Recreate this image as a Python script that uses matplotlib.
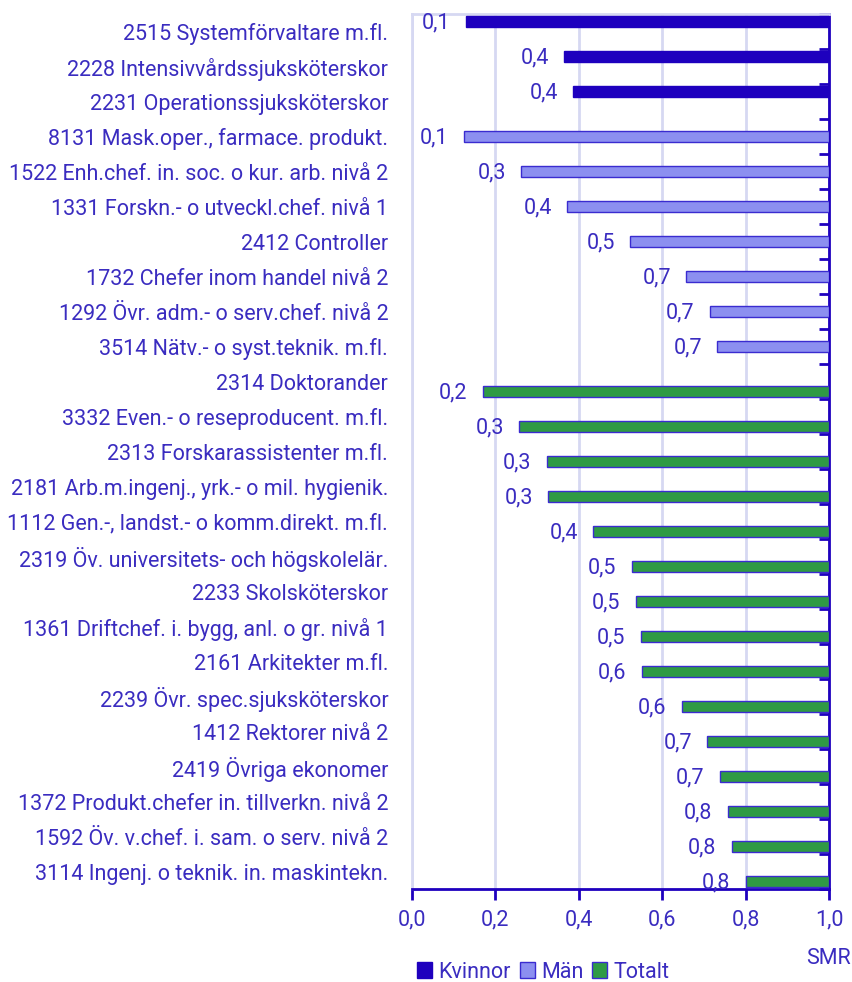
import numpy as np
import matplotlib.pyplot as plt
from matplotlib.patches import Patch

plt.rcParams['font.family'] = ['Roboto', 'DejaVu Sans']

# data (SMR per occupation)
kvinnor_occ = ['2515 Systemförvaltare m.fl.', '2228 Intensivvårdssjuksköterskor',
               '2231 Operationssjuksköterskor']
kvinnor_smr = [0.129, 0.365, 0.387]

man_occ = ['8131 Mask.oper., farmace. produkt.', '1522 Enh.chef. in. soc. o kur. arb. nivå 2',
           '1331 Forskn.- o utveckl.chef. nivå 1', '2412 Controller',
           '1732 Chefer inom handel nivå 2', '1292 Övr. adm.- o serv.chef. nivå 2',
           '3514 Nätv.- o syst.teknik. m.fl.']
man_smr = [0.124, 0.262, 0.373, 0.523, 0.658, 0.714, 0.732]

totalt_occ = ['2314 Doktorander', '3332 Even.- o reseproducent. m.fl.',
              '2313 Forskarassistenter m.fl.', '2181 Arb.m.ingenj., yrk.- o mil. hygienik.',
              '1112 Gen.-, landst.- o komm.direkt. m.fl.', '2319 Öv. universitets- och högskolelär.',
              '2233 Skolsköterskor', '1361 Driftchef. i. bygg, anl. o gr. nivå 1',
              '2161 Arkitekter m.fl.', '2239 Övr. spec.sjuksköterskor', '1412 Rektorer nivå 2',
              '2419 Övriga ekonomer', '1372 Produkt.chefer in. tillverkn. nivå 2',
              '1592 Öv. v.chef. i. sam. o serv. nivå 2', '3114 Ingenj. o teknik. in. maskintekn.']
totalt_smr = [0.170, 0.257, 0.324, 0.327, 0.434, 0.527, 0.536, 0.548, 0.551, 0.647,
              0.708, 0.738, 0.757, 0.766, 0.800]

dark = '#1E00BE'
txt = '#3A2CC0'
grid = '#D6D8F2'
fs = 15.5

series = [('Kvinnor', kvinnor_occ, kvinnor_smr, dark, dark, -0.29),
          ('Män', man_occ, man_smr, '#8C8FF0', '#3A2BD0', 0.0),
          ('Totalt', totalt_occ, totalt_smr, '#2F9A44', '#3A2BD0', 0.29)]

labels = kvinnor_occ + man_occ + totalt_occ
n = len(labels)

fig = plt.figure(figsize=(8.53, 9.82), dpi=100)
ax = fig.add_axes([0.4827, 0.0947, 0.4895, 0.891])

start = 0
for name, occ, vals, fc, ec, off in series:
    y = np.arange(start, start + len(occ)) + off
    vals = np.array(vals)
    ax.barh(y, 1 - vals, left=vals, height=0.30, color=fc, edgecolor=ec, linewidth=1, zorder=3)
    for yy, v in zip(y, vals):
        ax.annotate(f'{v:.1f}'.replace('.', ','), (v, yy), xytext=(-11, -1),
                    textcoords='offset points', ha='right', va='center',
                    fontsize=fs, color=txt)
    start += len(occ)

ax.set_xlim(0, 1.0)
ax.set_ylim(n - 0.5, -0.5)
ax.set_xticks(np.arange(0, 1.01, 0.2))
ax.set_xticklabels([f'{t:.1f}'.replace('.', ',') for t in np.arange(0, 1.01, 0.2)])
ax.set_yticks(np.arange(n))
ax.set_yticklabels(labels)
ax.set_yticks(np.arange(n + 1) - 0.5, minor=True)

ax.xaxis.grid(True, color=grid, linewidth=2, zorder=0)
ax.set_axisbelow(True)

for s in ['top', 'left']:
    ax.spines[s].set_color(grid)
    ax.spines[s].set_linewidth(2)
for s in ['bottom', 'right']:
    ax.spines[s].set_color(dark)
    ax.spines[s].set_linewidth(2)

ax.tick_params(axis='x', colors=dark, labelcolor=txt, labelsize=fs, length=8, width=2, pad=7)
ax.tick_params(axis='y', which='major', length=0, pad=17, labelsize=fs, labelcolor=txt)
ax.tick_params(axis='y', which='minor', left=False, right=True, direction='in',
               length=7, width=2, color=dark)

fig.text(0.997, 1 - 959 / 982, 'SMR', ha='right', va='center', fontsize=fs, color=txt)

handles = [Patch(facecolor=fc, edgecolor=ec, linewidth=1) for _, _, _, fc, ec, _ in series]
fig.legend(handles, [s[0] for s in series], loc='center left', ncol=3,
           bbox_to_anchor=(0.4765, 1 - 972 / 982), frameon=False, fontsize=fs,
           handlelength=0.7, handleheight=0.7, handletextpad=0.3, columnspacing=0.4,
           borderpad=0, labelcolor=txt)

fig.savefig('out.png', dpi=100)
